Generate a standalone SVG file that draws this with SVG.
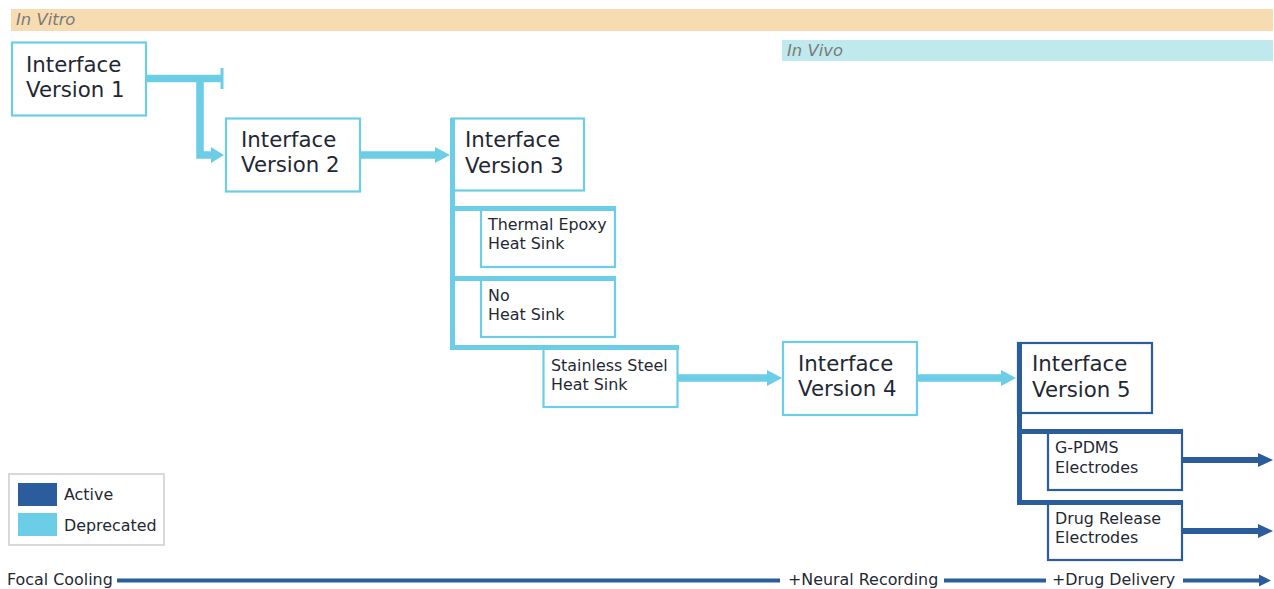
<svg xmlns="http://www.w3.org/2000/svg" width="1274" height="589" viewBox="0 0 1274 589">
<style>
text{font-family:"DejaVu Sans","Verdana",sans-serif;fill:#1f2933}
.big{font-size:21.3px}
.sm{font-size:15.9px}
.band{font-size:16.4px;font-style:italic;fill:#7a7a7a}
.lb{fill:#ffffff;stroke:#6ccde6;stroke-width:2.2}
.db{fill:#ffffff;stroke:#2b5c9b;stroke-width:2.2}
.lline{stroke:#6ccde6;stroke-width:7.5;fill:none}
.dline{stroke:#2b5c9b;stroke-width:6;fill:none}
.lfill{fill:#6ccde6}
.dfill{fill:#2b5c9b}
</style>
<rect width="1274" height="589" fill="#ffffff"/>
<g id="band-invitro"><rect x="11" y="9" width="1262" height="22" fill="#f7dcb2"/><text class="band" x="16" y="25">In Vitro</text></g>
<g id="band-invivo"><rect x="782" y="40" width="491" height="21" fill="#c0e9ed"/><text class="band" x="787" y="56">In Vivo</text></g>

<g id="connectors">
  <path class="lline" d="M146 78.5 H222"/>
  <rect class="lfill" x="220.5" y="68" width="3" height="21"/>
  <path class="lline" d="M200 78.5 V155 H212"/>
  <polygon class="lfill" points="211,147 224,155 211,163"/>
  <path class="lline" d="M361 155 H437"/>
  <polygon class="lfill" points="435,147 450,155 435,163"/>
  <rect class="lfill" x="450" y="118" width="5" height="232"/>
  <rect class="lfill" x="450" y="206" width="165" height="5"/>
  <rect class="lfill" x="450" y="276" width="165" height="5"/>
  <rect class="lfill" x="450" y="345" width="228" height="5"/>
  <path class="lline" d="M678 378 H769"/>
  <polygon class="lfill" points="767,370 782,378 767,386"/>
  <path class="lline" d="M917 378 H1003"/>
  <polygon class="lfill" points="1001,370 1016,378 1001,386"/>
  <rect class="dfill" x="1017" y="343" width="5" height="162"/>
  <rect class="dfill" x="1017" y="429" width="165" height="5"/>
  <rect class="dfill" x="1017" y="500" width="165" height="5"/>
  <path class="dline" d="M1182 460 H1260"/>
  <polygon class="dfill" points="1258,453 1273,460 1258,467"/>
  <path class="dline" d="M1182 531 H1260"/>
  <polygon class="dfill" points="1258,524 1273,531 1258,538"/>
</g>

<g id="iv1"><rect class="lb" x="12" y="42.5" width="134" height="73"/><text class="big" x="26" y="72">Interface</text><text class="big" x="26" y="97">Version 1</text></g>
<g id="iv2"><rect class="lb" x="226" y="118.5" width="134" height="73"/><text class="big" x="241" y="147">Interface</text><text class="big" x="241" y="172">Version 2</text></g>
<g id="iv3"><rect class="lb" x="452" y="118.5" width="132" height="72"/><rect class="lfill" x="450" y="118" width="5" height="73"/><text class="big" x="465" y="147">Interface</text><text class="big" x="465" y="173">Version 3</text></g>
<g id="thermal"><rect class="lb" x="481" y="208" width="134" height="59"/><rect class="lfill" x="450" y="206" width="166" height="5"/><text class="sm" x="488" y="230">Thermal Epoxy</text><text class="sm" x="488" y="249">Heat Sink</text></g>
<g id="noheat"><rect class="lb" x="481" y="278" width="134" height="59"/><rect class="lfill" x="450" y="276" width="166" height="5"/><text class="sm" x="488" y="301">No</text><text class="sm" x="488" y="320">Heat Sink</text></g>
<g id="stainless"><rect class="lb" x="543.5" y="347" width="134" height="60"/><rect class="lfill" x="450" y="345" width="229" height="5"/><text class="sm" x="551" y="371">Stainless Steel</text><text class="sm" x="551" y="390">Heat Sink</text></g>
<g id="iv4"><rect class="lb" x="783" y="342" width="134" height="73"/><text class="big" x="798" y="371">Interface</text><text class="big" x="798" y="396">Version 4</text></g>
<g id="iv5"><rect class="db" x="1018" y="343" width="134" height="70"/><rect class="dfill" x="1017" y="342" width="5" height="72"/><text class="big" x="1032" y="371">Interface</text><text class="big" x="1032" y="397">Version 5</text></g>
<g id="gpdms"><rect class="db" x="1048" y="431" width="134" height="59"/><rect class="dfill" x="1017" y="429" width="166" height="5"/><text class="sm" x="1055" y="453">G-PDMS</text><text class="sm" x="1055" y="473">Electrodes</text></g>
<g id="drug"><rect class="db" x="1048" y="502" width="134" height="58"/><rect class="dfill" x="1017" y="500" width="166" height="5"/><text class="sm" x="1055" y="524">Drug Release</text><text class="sm" x="1055" y="543">Electrodes</text></g>

<g id="legend">
  <rect x="9" y="474" width="155" height="71" fill="#ffffff" stroke="#d9d9d9" stroke-width="2"/>
  <rect x="18" y="483" width="39" height="23" class="dfill"/>
  <rect x="18" y="513" width="39" height="23" class="lfill"/>
  <text class="sm" x="64" y="500">Active</text>
  <text class="sm" x="64" y="531">Deprecated</text>
</g>

<g id="timeline">
  <text class="sm" x="7" y="585">Focal Cooling</text>
  <rect class="dfill" x="117" y="578.5" width="663" height="4"/>
  <text class="sm" x="788" y="585">+Neural Recording</text>
  <rect class="dfill" x="944" y="578.5" width="102" height="4"/>
  <text class="sm" x="1052" y="585">+Drug Delivery</text>
  <rect class="dfill" x="1183" y="578.5" width="78" height="4"/>
  <polygon class="dfill" points="1259,574.5 1271,580.5 1259,586.5"/>
</g>
</svg>
